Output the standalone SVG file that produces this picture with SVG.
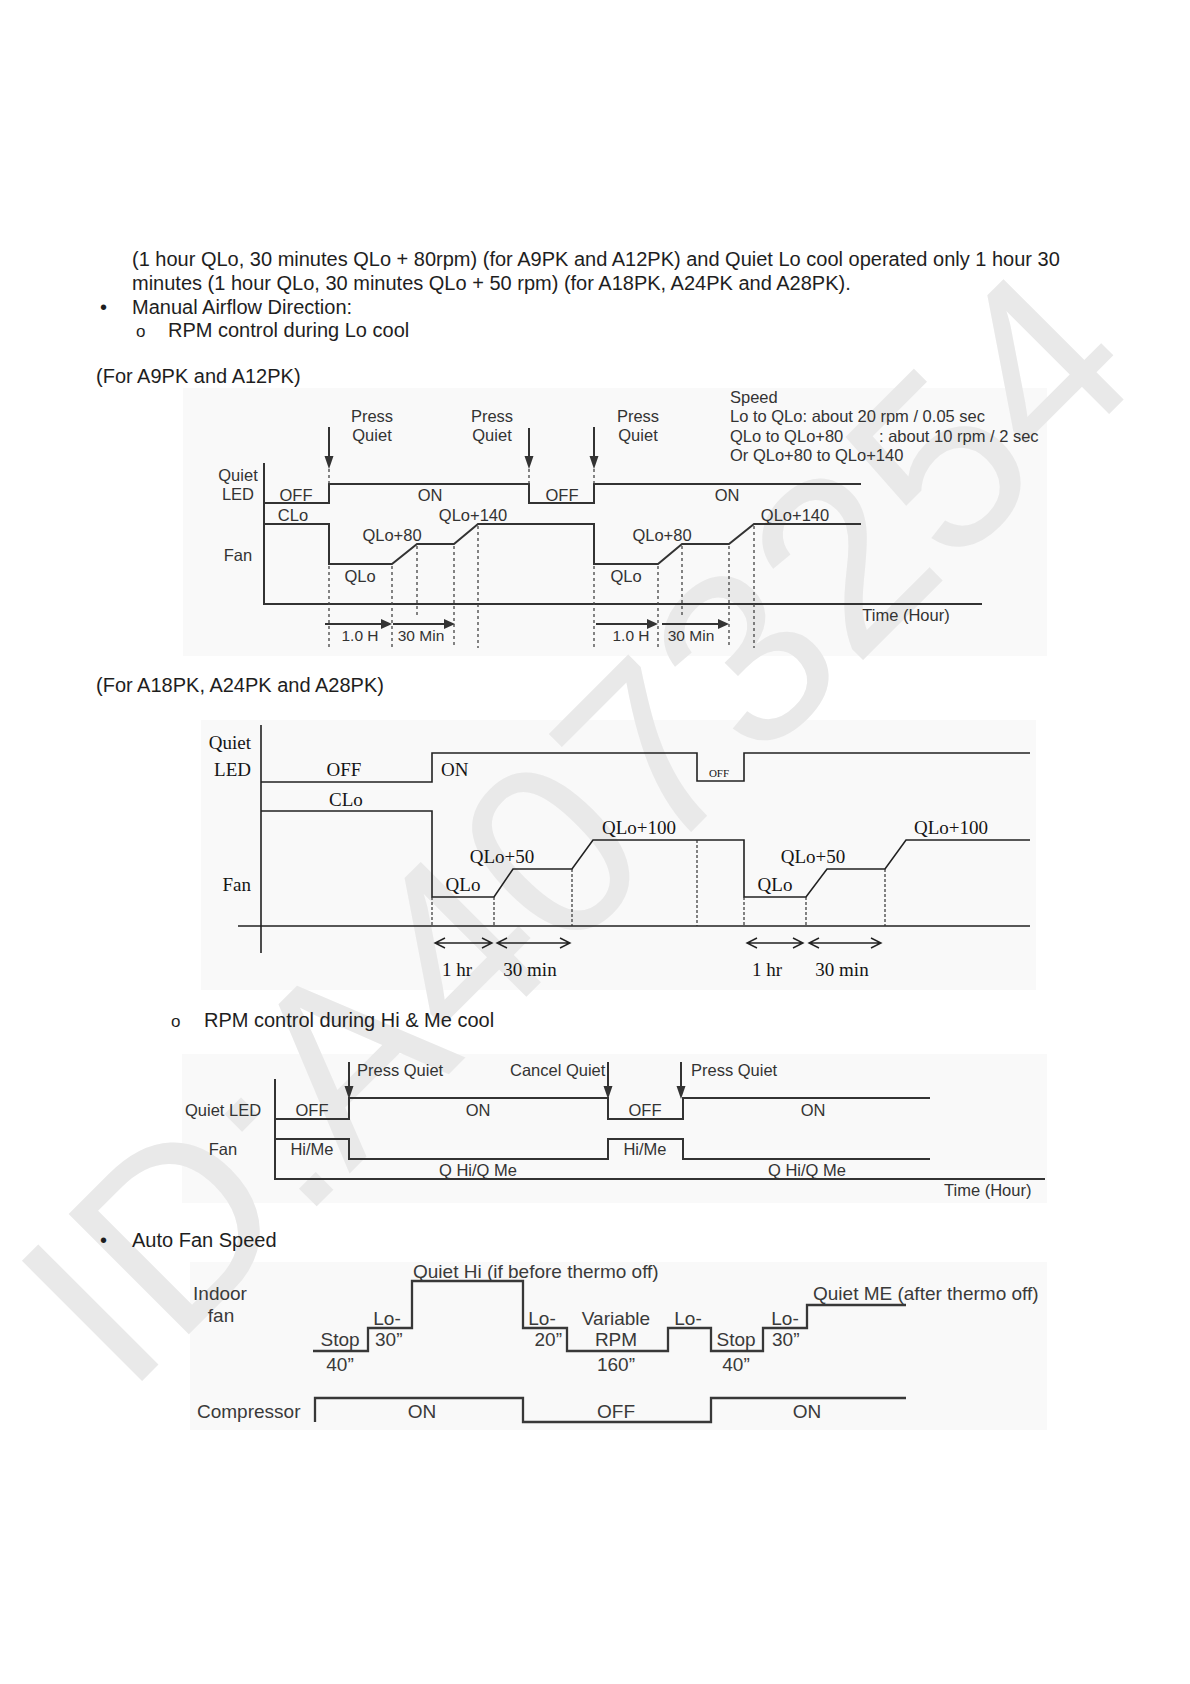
<svg xmlns="http://www.w3.org/2000/svg" width="1190" height="1684" viewBox="0 0 1190 1684">
<style>
.body{font-family:"Liberation Sans",Arial,sans-serif;font-size:20px;fill:#1e1e1e}
.d1{font-family:"Liberation Sans",Arial,sans-serif;font-size:16.5px;fill:#333}
.d1s{font-family:"Liberation Sans",Arial,sans-serif;font-size:15.5px;fill:#333}
.d2{font-family:"Liberation Serif","Times New Roman",serif;font-size:19px;fill:#151515}
.d3{font-family:"Liberation Sans",Arial,sans-serif;font-size:16.5px;fill:#333}
.d4{font-family:"Liberation Sans",Arial,sans-serif;font-size:19px;fill:#3a3a3a}
.m{text-anchor:middle}.e{text-anchor:end}
.ln{fill:none;stroke:#333;stroke-width:2}
.ln2{fill:none;stroke:#222;stroke-width:1.6}
.ln4{fill:none;stroke:#383838;stroke-width:2.3}
.dash{fill:none;stroke:#444;stroke-width:1.3;stroke-dasharray:3 3}
.dash2{fill:none;stroke:#333;stroke-width:1.2;stroke-dasharray:3 2}
.bg{fill:#f9f9f9}
.ah{fill:#333}
.oa{fill:none;stroke:#222;stroke-width:1.4}
</style>
<rect width="1190" height="1684" fill="#ffffff"/>
<g id="backgrounds">
<rect class="bg" x="183" y="388" width="864" height="268"/>
<rect class="bg" x="201" y="720" width="835" height="270"/>
<rect class="bg" x="182" y="1054" width="865" height="149"/>
<rect class="bg" x="190" y="1262" width="857" height="168"/>
</g>
<text id="watermark" x="126" y="1397" transform="rotate(-45 126 1397)" font-family="Liberation Sans, Arial, sans-serif" font-size="247" fill="#e9e9e9">ID:A4073254</text>

<g id="body-text">
<text class="body" x="132" y="266">(1 hour QLo, 30 minutes QLo + 80rpm) (for A9PK and A12PK) and Quiet Lo cool operated only 1 hour 30</text>
<text class="body" x="132" y="290">minutes (1 hour QLo, 30 minutes QLo + 50 rpm) (for A18PK, A24PK and A28PK).</text>
<text class="body" x="100" y="314">•</text>
<text class="body" x="132" y="314">Manual Airflow Direction:</text>
<text class="body" x="136" y="337" style="font-size:17px">o</text>
<text class="body" x="168" y="337">RPM control during Lo cool</text>
<text class="body" x="96" y="383">(For A9PK and A12PK)</text>
<text class="body" x="96" y="692">(For A18PK, A24PK and A28PK)</text>
<text class="body" x="171" y="1027" style="font-size:17px">o</text>
<text class="body" x="204" y="1027">RPM control during Hi &amp; Me cool</text>
<text class="body" x="100" y="1247">•</text>
<text class="body" x="132" y="1247">Auto Fan Speed</text>
</g>

<g id="diagram-a9pk">
<g id="d1-connectors">
<path class="ln" d="M264,463 V604 H982"/>
<path class="ln" d="M264,503 H329 V484 H529 V503 H594 V484 H861"/>
<path class="ln" d="M264,524 H329 V564 H392 L417,544 H454 L478,524 H594 V564 H658 L682,544 H729 L754,524 H861"/>
<path class="ln" d="M329,427 V458 M529,428 V458 M594,427 V458"/>
<polygon class="ah" points="324.5,456 333.5,456 329,469"/>
<polygon class="ah" points="524.5,456 533.5,456 529,469"/>
<polygon class="ah" points="589.5,456 598.5,456 594,469"/>
<path class="dash" d="M329,469 V484 M529,469 V484 M594,469 V484"/>
<path class="dash" d="M329,566 V648 M392,566 V648 M417,546 V616 M454,546 V648 M478,526 V648"/>
<path class="dash" d="M594,566 V648 M658,566 V648 M682,546 V616 M729,546 V648 M754,526 V648"/>
<path class="ln" d="M325,624 H384 M393,624 H448 M596,624 H650 M662,624 H721"/>
<polygon class="ah" points="381,619 381,629 392,624"/>
<polygon class="ah" points="444,619 444,629 455,624"/>
<polygon class="ah" points="647,619 647,629 658,624"/>
<polygon class="ah" points="718,619 718,629 729,624"/>
</g>
<g id="d1-labels">
<text class="d1 m" x="372" y="422">Press</text>
<text class="d1 m" x="372" y="441">Quiet</text>
<text class="d1 m" x="492" y="422">Press</text>
<text class="d1 m" x="492" y="441">Quiet</text>
<text class="d1 m" x="638" y="422">Press</text>
<text class="d1 m" x="638" y="441">Quiet</text>
<text class="d1" x="730" y="403">Speed</text>
<text class="d1" x="730" y="422">Lo to QLo: about 20 rpm / 0.05 sec</text>
<text class="d1" x="730" y="442">QLo to QLo+80</text>
<text class="d1" x="879" y="442">: about 10 rpm / 2 sec</text>
<text class="d1" x="730" y="461">Or QLo+80 to QLo+140</text>
<text class="d1 m" x="238" y="481">Quiet</text>
<text class="d1 m" x="238" y="500">LED</text>
<text class="d1 m" x="296" y="501">OFF</text>
<text class="d1 m" x="430" y="501">ON</text>
<text class="d1 m" x="562" y="501">OFF</text>
<text class="d1 m" x="727" y="501">ON</text>
<text class="d1 m" x="293" y="521">CLo</text>
<text class="d1 m" x="238" y="561">Fan</text>
<text class="d1 m" x="360" y="582">QLo</text>
<text class="d1 m" x="392" y="541">QLo+80</text>
<text class="d1 m" x="473" y="521">QLo+140</text>
<text class="d1 m" x="626" y="582">QLo</text>
<text class="d1 m" x="662" y="541">QLo+80</text>
<text class="d1 m" x="795" y="521">QLo+140</text>
<text class="d1 m" x="906" y="621">Time (Hour)</text>
<text class="d1s m" x="360" y="641">1.0 H</text>
<text class="d1s m" x="421" y="641">30 Min</text>
<text class="d1s m" x="631" y="641">1.0 H</text>
<text class="d1s m" x="691" y="641">30 Min</text>
</g>
</g>

<g id="diagram-a18pk">
<g id="d2-connectors">
<path class="ln2" d="M261,725 V953 M238,926 H1030"/>
<path class="ln2" d="M261,782 H432 V753 H697 V781 H744 V753 H1030"/>
<path class="ln2" d="M261,811 H432 V897 H494 L513,869 H572 L593,840 H744 V897 H806 L827,869 H885 L906,840 H1030"/>
<path class="dash2" d="M432,897 V926 M494,897 V926 M572,869 V926 M697,840 V926 M744,897 V926 M806,897 V926 M885,869 V926"/>
<path class="oa" d="M435,943 H492 M445,938 L435,943 L445,948 M482,938 L492,943 L482,948"/>
<path class="oa" d="M497,943 H570 M507,938 L497,943 L507,948 M560,938 L570,943 L560,948"/>
<path class="oa" d="M747,943 H803 M757,938 L747,943 L757,948 M793,938 L803,943 L793,948"/>
<path class="oa" d="M809,943 H881 M819,938 L809,943 L819,948 M871,938 L881,943 L871,948"/>
</g>
<g id="d2-labels">
<text class="d2 e" x="251" y="749">Quiet</text>
<text class="d2 e" x="251" y="776">LED</text>
<text class="d2 m" x="344" y="776">OFF</text>
<text class="d2" x="441" y="776">ON</text>
<text class="d2 m" x="719" y="777" style="font-size:11px">OFF</text>
<text class="d2" x="329" y="806">CLo</text>
<text class="d2 e" x="251" y="891">Fan</text>
<text class="d2 m" x="463" y="891">QLo</text>
<text class="d2 m" x="502" y="863">QLo+50</text>
<text class="d2 m" x="639" y="834">QLo+100</text>
<text class="d2 m" x="775" y="891">QLo</text>
<text class="d2 m" x="813" y="863">QLo+50</text>
<text class="d2 m" x="951" y="834">QLo+100</text>
<text class="d2 m" x="457" y="976">1 hr</text>
<text class="d2 m" x="530" y="976">30 min</text>
<text class="d2 m" x="767" y="976">1 hr</text>
<text class="d2 m" x="842" y="976">30 min</text>
</g>
</g>

<g id="diagram-hime">
<g id="d3-connectors">
<path class="ln" d="M275,1079 V1179 H1045"/>
<path class="ln" d="M275,1119 H349 V1098 H608 V1119 H683 V1098 H930"/>
<path class="ln" d="M275,1139 H349 V1159 H608 V1139 H683 V1159 H930"/>
<path class="ln" d="M349,1062 V1088 M608,1062 V1088 M681,1062 V1088"/>
<polygon class="ah" points="344.5,1086 353.5,1086 349,1099"/>
<polygon class="ah" points="603.5,1086 612.5,1086 608,1099"/>
<polygon class="ah" points="676.5,1086 685.5,1086 681,1099"/>
</g>
<g id="d3-labels">
<text class="d3" x="357" y="1076">Press Quiet</text>
<text class="d3" x="510" y="1076">Cancel Quiet</text>
<text class="d3" x="691" y="1076">Press Quiet</text>
<text class="d3" x="185" y="1116">Quiet LED</text>
<text class="d3 m" x="312" y="1116">OFF</text>
<text class="d3 m" x="478" y="1116">ON</text>
<text class="d3 m" x="645" y="1116">OFF</text>
<text class="d3 m" x="813" y="1116">ON</text>
<text class="d3 m" x="223" y="1155">Fan</text>
<text class="d3 m" x="312" y="1155">Hi/Me</text>
<text class="d3 m" x="645" y="1155">Hi/Me</text>
<text class="d3 m" x="478" y="1176">Q Hi/Q Me</text>
<text class="d3 m" x="807" y="1176">Q Hi/Q Me</text>
<text class="d3" x="944" y="1196">Time (Hour)</text>
</g>
</g>

<g id="diagram-autofan">
<g id="d4-connectors">
<path class="ln4" d="M313,1351 H368 V1328 H412 V1281 H523 V1328 H567 V1351 H668 V1328 H711 V1351 H763 V1328 H807 V1305 H906"/>
<path class="ln4" d="M315,1422 V1398 H523 V1422 H711 V1398 H906"/>
</g>
<g id="d4-labels">
<text class="d4 m" x="220" y="1300">Indoor</text>
<text class="d4 m" x="221" y="1322">fan</text>
<text class="d4" x="413" y="1278">Quiet Hi (if before thermo off)</text>
<text class="d4 m" x="387" y="1325">Lo-</text>
<text class="d4 m" x="340" y="1346">Stop</text>
<text class="d4" x="375" y="1346">30”</text>
<text class="d4 m" x="340" y="1371">40”</text>
<text class="d4 m" x="542" y="1325">Lo-</text>
<text class="d4 e" x="562" y="1346">20”</text>
<text class="d4 m" x="616" y="1325">Variable</text>
<text class="d4 m" x="616" y="1346">RPM</text>
<text class="d4 m" x="616" y="1371">160”</text>
<text class="d4 m" x="688" y="1325">Lo-</text>
<text class="d4 m" x="736" y="1346">Stop</text>
<text class="d4 m" x="736" y="1371">40”</text>
<text class="d4 m" x="785" y="1325">Lo-</text>
<text class="d4" x="772" y="1346">30”</text>
<text class="d4" x="813" y="1300">Quiet ME (after thermo off)</text>
<text class="d4" x="197" y="1418">Compressor</text>
<text class="d4 m" x="422" y="1418">ON</text>
<text class="d4 m" x="616" y="1418">OFF</text>
<text class="d4 m" x="807" y="1418">ON</text>
</g>
</g>
</svg>
